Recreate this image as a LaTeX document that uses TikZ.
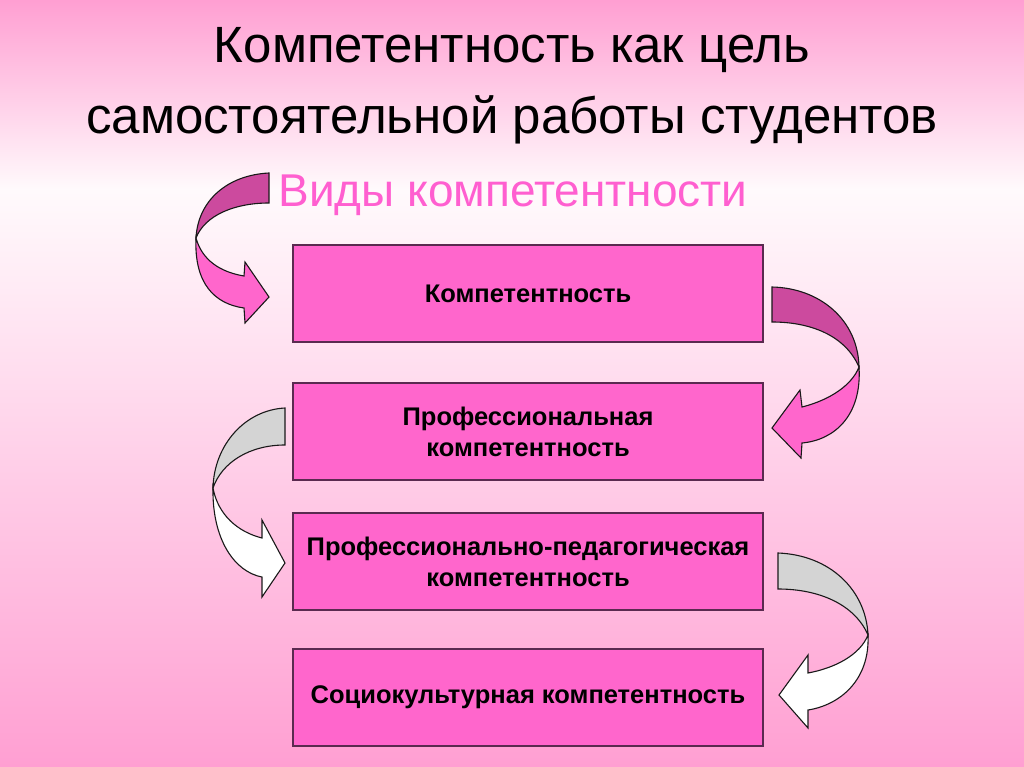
\documentclass[tikz,border=0pt]{standalone}
\usepackage{fontspec}
\setmainfont{Liberation Sans}
\usetikzlibrary{positioning}

\definecolor{bgpink}{HTML}{FF9FD2}
\definecolor{bgwhite}{HTML}{FFFAFC}
\definecolor{boxpink}{HTML}{FF66CC}
\definecolor{boxline}{HTML}{5A2A50}
\definecolor{backpink}{HTML}{CC4A9E}
\definecolor{titlepink}{HTML}{FF5FD0}
\definecolor{backgrey}{HTML}{D4D4D4}

\tikzset{
  stage/.style={draw=boxline, line width=1.3pt, fill=boxpink, minimum width=470pt,
    minimum height=97pt, align=center, font=\fontsize{25.5}{31}\selectfont\bfseries},
  backface/.style={draw=black!90, line width=1.1pt, fill=backpink},
  frontface/.style={draw=black!90, line width=1.1pt, fill=boxpink},
  backgreyface/.style={draw=black!90, line width=1.1pt, fill=backgrey},
  frontwhiteface/.style={draw=black!90, line width=1.1pt, fill=white}
}

\begin{document}
\begin{tikzpicture}[x=1pt, y=-1pt]

% background
\useasboundingbox (0,0) rectangle (1024,767);
\shade[top color=bgpink, bottom color=bgwhite] (0,0) rectangle (1024,190);
\shade[top color=bgwhite, bottom color=bgpink] (0,190) rectangle (1024,767);

% title
\node[anchor=base, font=\fontsize{51}{55}\selectfont] (title1) at (512,63)
  {Компетентность как цель};
\node[anchor=base, font=\fontsize{51}{55}\selectfont] (title2) at (512,134)
  {самостоятельной работы студентов};
\node[anchor=base, text=titlepink, font=\fontsize{46}{50}\selectfont] (kinds) at (513,207)
  {Виды компетентности};

% stages
\node[stage] (comp) at (528,293.5) {Компетентность};
\node[stage] (prof) at (528,431.5) {Профессиональная\\компетентность};
\node[stage] (ped) at (528,561.5) {Профессионально-педагогическая\\компетентность};
\node[stage] (soc) at (528,697.5) {Социокультурная компетентность};

% curved arrows
\draw[backface] (269,173) .. controls (228,175) and (198,200) .. (196,238)
  .. controls (205,215) and (235,203) .. (269,203) -- cycle;
\draw[frontface] (196,238) .. controls (194,284) and (215,304) .. (244,308)
  -- (245,323) -- (269,297) -- (245,262) -- (244,276)
  .. controls (220,272) and (202,260) .. (196,238) -- cycle;

\draw[backface] (772,287) .. controls (820,288) and (858,320) .. (859,367)
  .. controls (845,335) and (810,322) .. (772,322) -- cycle;
\draw[frontface] (859,367) .. controls (862,415) and (835,440) .. (802,443)
  -- (801,458) -- (772,428) -- (800,390) -- (802,407)
  .. controls (830,400) and (852,385) .. (859,367) -- cycle;

\draw[backgreyface] (285,408) .. controls (245,410) and (214,445) .. (213,488)
  .. controls (222,462) and (250,445) .. (285,445) -- cycle;
\draw[frontwhiteface] (213,488) .. controls (212,540) and (235,572) .. (262,577)
  -- (262,597) -- (285,563) -- (262,520) -- (262,538)
  .. controls (238,532) and (218,515) .. (213,488) -- cycle;

\draw[backgreyface] (778,553) .. controls (830,555) and (866,590) .. (868,635)
  .. controls (855,605) and (820,589) .. (778,589) -- cycle;
\draw[frontwhiteface] (868,635) .. controls (870,680) and (840,705) .. (808,710)
  -- (808,728) -- (779,695) -- (808,655) -- (808,673)
  .. controls (835,668) and (860,655) .. (868,635) -- cycle;

\end{tikzpicture}
\end{document}
